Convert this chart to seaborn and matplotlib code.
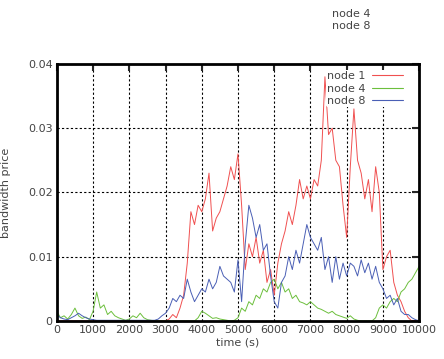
import numpy as np
import pandas as pd
import matplotlib
matplotlib.use("Agg")
import matplotlib.pyplot as plt
from matplotlib.lines import Line2D
import seaborn as sns

# sampling grid, seconds
time_s = np.arange(0, 10001, 100)

node1 = [0.0] * 31 + [
    0.0003, 0.001, 0.0005, 0.002, 0.004, 0.009, 0.017, 0.015, 0.018,
    0.017, 0.019, 0.023, 0.014, 0.016, 0.017, 0.019, 0.021, 0.024, 0.022,
    0.026, 0.018, 0.008, 0.012, 0.010, 0.013, 0.009, 0.011, 0.006, 0.008,
    0.004, 0.009, 0.012, 0.014, 0.017, 0.015, 0.018, 0.022, 0.019, 0.021,
    0.019, 0.022, 0.021, 0.025, 0.038, 0.029, 0.030, 0.025, 0.024, 0.018,
    0.013, 0.024, 0.033, 0.025, 0.023, 0.019, 0.022, 0.017, 0.024, 0.020,
    0.008, 0.010, 0.011, 0.006, 0.004, 0.003, 0.0015, 0.0005, 0.0, 0.0,
    0.0,
]

node4 = [
    0.0015, 0.0005, 0.0008, 0.0003, 0.001, 0.002, 0.0008, 0.0004, 0.0006, 0.0002,
    0.0015, 0.0045, 0.002, 0.0025, 0.001, 0.0015, 0.0008, 0.0005, 0.0003, 0.0001,
    0.0003, 0.0008, 0.0005, 0.0012, 0.0005, 0.0002, 0.0001, 0.0, 0.0, 0.0,
    0.0, 0.0, 0.0, 0.0, 0.0, 0.0, 0.0, 0.0, 0.0, 0.0005,
    0.0015, 0.0012, 0.0008, 0.0004, 0.0005, 0.0003, 0.0002, 0.0001, 0.0, 0.0001,
    0.0005, 0.002, 0.0015, 0.003, 0.0025, 0.004, 0.0035, 0.005, 0.0045, 0.006,
    0.0065, 0.005, 0.006, 0.0045, 0.005, 0.0035, 0.004, 0.003, 0.0028, 0.0025,
    0.003, 0.0025, 0.002, 0.0018, 0.0015, 0.0012, 0.0015, 0.001, 0.0008, 0.0006,
    0.0004, 0.0008, 0.0003, 0.0001, 0.0, 0.0, 0.0, 0.0, 0.0005, 0.002,
    0.0025, 0.002, 0.003, 0.0035, 0.003, 0.0045, 0.005, 0.006, 0.0065, 0.0075,
    0.0085,
]

node8 = [
    0.001, 0.0005, 0.0003, 0.0002, 0.0005, 0.0008, 0.0012, 0.0008, 0.0005, 0.0003,
    0.0002, 0.0001, 0.0001, 0.0001, 0.0001, 0.0001, 0.0001, 0.0001, 0.0001, 0.0001,
    0.0001, 0.0001, 0.0001, 0.0001, 0.0001, 0.0001, 0.0001, 0.0001, 0.0003, 0.0008,
    0.0012, 0.002, 0.0035, 0.003, 0.004, 0.0035, 0.0065, 0.0045, 0.003, 0.004,
    0.005, 0.0045, 0.0065, 0.005, 0.006, 0.0085, 0.007, 0.0065, 0.006, 0.0045,
    0.0095, 0.003, 0.012, 0.018, 0.016, 0.013, 0.015, 0.011, 0.012, 0.007,
    0.003, 0.002, 0.006, 0.007, 0.010, 0.008, 0.011, 0.009, 0.012, 0.015,
    0.013, 0.012, 0.011, 0.013, 0.008, 0.010, 0.006, 0.010, 0.0065, 0.009,
    0.007, 0.009, 0.0085, 0.007, 0.0095, 0.0075, 0.009, 0.0065, 0.0085, 0.006,
    0.005, 0.0035, 0.004, 0.0025, 0.0035, 0.0015, 0.001, 0.001, 0.0005, 0.0002,
    0.0,
]

x_ticks = list(range(0, 10001, 1000))
y_ticks = [0, 0.01, 0.02, 0.03, 0.04]
y_tick_labels = ["0", "0.01", "0.02", "0.03", "0.04"]

sns.set_style("white")
plt.rcParams["font.family"] = ["DejaVu Sans"]

fig = plt.figure(figsize=(4.44, 3.59), dpi=100)
ax = fig.add_axes([0.128, 0.106, 0.816, 0.716])

series = [("node 1", node1, "#f05050"),
          ("node 4", node4, "#6cbf3c"),
          ("node 8", node8, "#4a5fb5")]
for name, vals, col in series:
    sns.lineplot(x=time_s, y=vals, ax=ax, color=col, linewidth=0.7, legend=False)

ax.set_xlim(0, 10000)
ax.set_ylim(0, 0.04)
ax.set_xticks(x_ticks)
ax.set_yticks(y_ticks)
ax.set_yticklabels(y_tick_labels)
ax.grid(True, color="black", linestyle=(0, (2, 2)), linewidth=0.8)
ax.tick_params(direction="in", length=5, width=1.5, top=True, right=True,
               labelsize=8, labelcolor="#444444", pad=3)
for sp in ax.spines.values():
    sp.set_linewidth(2)
    sp.set_color("black")

ax.set_xlabel("time (s)", fontsize=8, color="#444444", labelpad=2)
ax.set_ylabel("bandwidth price", fontsize=8, color="#444444", labelpad=12)

handles = [Line2D([], [], color=col, linewidth=0.8) for _, _, col in series]
labels = [name for name, _, _ in series]
leg = ax.legend(handles, labels, loc="upper right", bbox_to_anchor=(0.965, 0.985),
                frameon=True, facecolor="white", edgecolor="none", framealpha=1,
                markerfirst=False, fontsize=8, handlelength=2.8,
                labelspacing=0.22, borderaxespad=0.2, borderpad=0.1,
                handletextpad=0.6)
for txt in leg.get_texts():
    txt.set_color("#444444")

fig.text(332 / 444, 1 - 14 / 359, "node 4", fontsize=8, color="#444444", va="center")
fig.text(332 / 444, 1 - 26 / 359, "node 8", fontsize=8, color="#444444", va="center")

fig.savefig("out.png", dpi=100)
